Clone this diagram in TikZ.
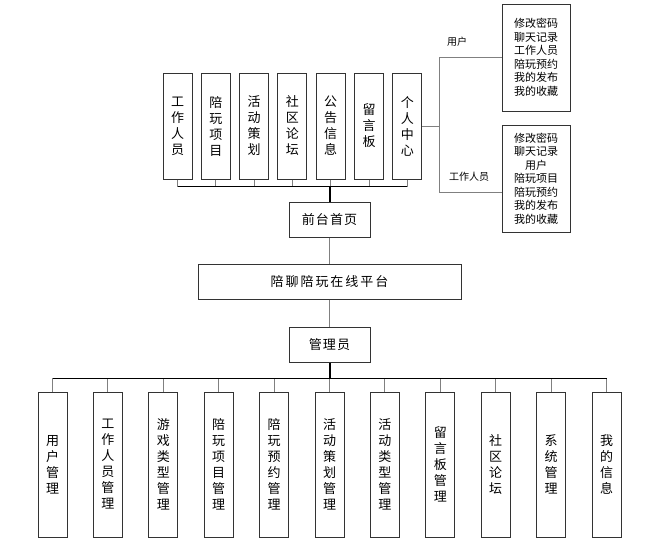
\documentclass[tikz,border=0pt]{standalone}
\usepackage{fontspec}
\setmainfont{Noto Sans CJK SC}
\usetikzlibrary{positioning}
\tikzset{
  box/.style = {draw = black!80, line width = 1pt, inner sep = 0pt, align = center, font = \fontsize{13}{16}\selectfont},
  widebox/.style = {box, minimum width = 81pt, minimum height = 35pt, font = \fontsize{13}{16}\selectfont\addfontfeature{LetterSpace = 8}},
  tallbox/.style = {box, minimum width = 29pt, minimum height = 106pt},
  lowbox/.style = {box, minimum width = 29pt, minimum height = 145pt},
  listbox/.style = {box, minimum width = 68pt, minimum height = 107pt, font = \fontsize{11}{13.5}\selectfont},
  tag/.style = {inner sep = 0pt, font = \fontsize{10}{12}\selectfont},
  link/.style = {draw = gray, line width = 1pt},
  bus/.style = {draw = black, line width = 1pt},
  trunk/.style = {draw = black, line width = 2pt}
}

\begin{document}
\begin{tikzpicture}[x = 1pt, y = -1pt, on grid]
		\useasboundingbox (0,0) rectangle (651,541);
		% middle column
		\node (qt) [widebox] at (329.5,219.5) {前台首页};
		\node (pt) [widebox, minimum width = 263pt, font = \fontsize{13}{16}\selectfont\addfontfeature{LetterSpace = 15}] at (329.5,281.5) {陪聊陪玩在线平台};
		\node (gly) [widebox] at (329.5,344.5) {管理员};
		% front pages
		\node (gzry) [tallbox] at (177.5,126) {工\\作\\人\\员};
		\node (pwxm) [tallbox, right = 38.3pt of gzry] {陪\\玩\\项\\目};
		\node (hdch) [tallbox, right = 38.3pt of pwxm] {活\\动\\策\\划};
		\node (sqlt) [tallbox, right = 38.3pt of hdch] {社\\区\\论\\坛};
		\node (ggxx) [tallbox, right = 38.3pt of sqlt] {公\\告\\信\\息};
		\node (lyb) [tallbox, right = 38.3pt of ggxx] {留\\言\\板};
		\node (grzx) [tallbox, right = 38.3pt of lyb] {个\\人\\中\\心};
		% personal centre lists
		\node (yhlb) [listbox] at (536,57.5) {修改密码\\聊天记录\\工作人员\\陪玩预约\\我的发布\\我的收藏};
		\node (rylb) [listbox] at (536,178.5) {修改密码\\聊天记录\\用户\\陪玩项目\\陪玩预约\\我的发布\\我的收藏};
		\node (yhbq) [tag] at (457,42) {用户};
		\node (rybq) [tag] at (469,177) {工作人员};
		% admin modules
		\node (yhgl) [lowbox] at (52.5,464.5) {用\\户\\管\\理};
		\node (rygl) [lowbox, right = 55.4pt of yhgl] {工\\作\\人\\员\\管\\理};
		\node (yxgl) [lowbox, right = 55.4pt of rygl] {游\\戏\\类\\型\\管\\理};
		\node (xmgl) [lowbox, right = 55.4pt of yxgl] {陪\\玩\\项\\目\\管\\理};
		\node (yygl) [lowbox, right = 55.4pt of xmgl] {陪\\玩\\预\\约\\管\\理};
		\node (chgl) [lowbox, right = 55.4pt of yygl] {活\\动\\策\\划\\管\\理};
		\node (lxgl) [lowbox, right = 55.4pt of chgl] {活\\动\\类\\型\\管\\理};
		\node (lygl) [lowbox, right = 55.4pt of lxgl] {留\\言\\板\\管\\理};
		\node (ltgl) [lowbox, right = 55.4pt of lygl] {社\\区\\论\\坛};
		\node (xtgl) [lowbox, right = 55.4pt of ltgl] {系\\统\\管\\理};
		\node (wdxx) [lowbox, right = 55.4pt of xtgl] {我\\的\\信\\息};
		% connectors
		\path[link]
		(qt.south) edge (pt.north)
		(pt.south) edge (gly.north);
		\coordinate (tb) at ([yshift = 15pt]qt.north);
		\coordinate (bb) at ([yshift = -16pt]gly.south);
		\draw[link] (gzry.south) |- (tb) (pwxm.south) |- (tb) (hdch.south) |- (tb) (sqlt.south) |- (tb)
		(ggxx.south) |- (tb) (lyb.south) |- (tb) (grzx.south) |- (tb);
		\draw[bus] (gzry.south |- tb) -- (grzx.south |- tb);
		\draw[trunk] (tb) -- (qt.north);
		\draw[link] (yhgl.north) |- (bb) (rygl.north) |- (bb) (yxgl.north) |- (bb) (xmgl.north) |- (bb)
		(yygl.north) |- (bb) (chgl.north) |- (bb) (lxgl.north) |- (bb) (lygl.north) |- (bb)
		(ltgl.north) |- (bb) (xtgl.north) |- (bb) (wdxx.north) |- (bb);
		\draw[bus] (yhgl.north |- bb) -- (wdxx.north |- bb);
		\draw[trunk] (gly.south) -- (bb);
		\coordinate (rb) at ([xshift = 17pt]grzx.east);
		\draw[link] (grzx.east) -- (rb);
		\draw[link] (yhlb.west) -| (rb) |- ([yshift = -13.5pt]rylb.west);
\end{tikzpicture}
\end{document}
